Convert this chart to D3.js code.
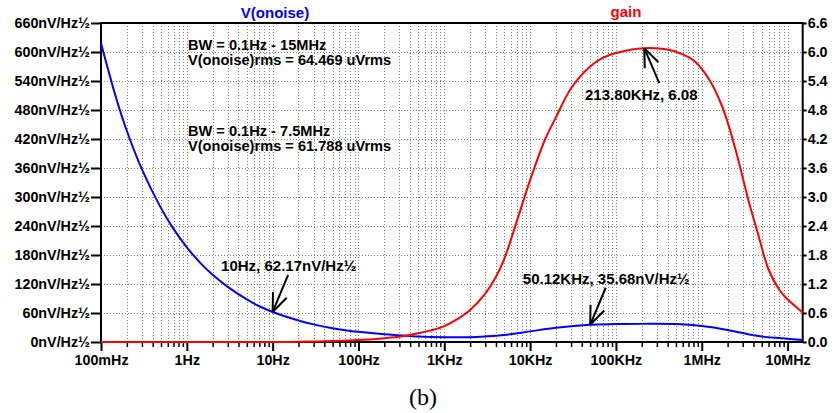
<!DOCTYPE html>
<html>
<head>
<meta charset="utf-8">
<script src="https://cdn.jsdelivr.net/npm/d3@7/dist/d3.min.js"></script>
<style>
  html, body { margin: 0; padding: 0; background: #fff; }
  svg { display: block; }
  text { font-family: "Liberation Sans", Arial, sans-serif; font-weight: bold; }
  text.caption { font-family: "Liberation Serif", "DejaVu Serif", serif; font-weight: normal; }
</style>
</head>
<body>
<div id="vis"></div>
<script>
// noise spectral density (nV/Hz^1/2) vs frequency (Hz)
const noiseFreq = [0.1, 0.15, 0.2, 0.3, 0.5, 0.7, 1, 1.5, 2, 3, 5, 7, 10, 20, 30, 50, 70, 100, 200, 300, 500,
  1e3, 2e3, 3e3, 5e3, 1e4, 2e4, 5.012e4, 1e5, 2e5, 5e5, 1e6, 2e6, 3e6, 5e6, 1e7, 1.5e7];
const noiseValues = [618, 505, 437, 357, 277, 234, 196, 160, 139, 114, 88, 74, 62.17, 44.5, 36.5, 28.6, 24.5, 21, 16, 14, 11.5,
  10, 10, 11.5, 14.5, 22, 29.5, 35.68, 37, 37.5, 37, 33, 25, 18.5, 11.5, 6.5, 4];

// gain vs frequency (Hz)
const gainFreq = [0.1, 10, 20, 50, 100, 200, 300, 500, 700, 1e3, 1.5e3, 2e3, 3e3, 4e3, 5e3, 7e3, 1e4, 1.5e4, 2e4, 3e4, 5e4,
  7e4, 1e5, 2.138e5, 4e5, 6e5, 8e5, 1e6, 1.3e6, 1.66e6, 2e6, 2.5e6, 3e6, 3.6e6, 4.5e6, 6e6, 8e6, 9.5e6, 1.5e7];
const gainValues = [0, 0, 0.005, 0.02, 0.04, 0.08, 0.11, 0.18, 0.24, 0.33, 0.5, 0.66, 1.0, 1.35, 1.72, 2.5, 3.35, 4.2, 4.65, 5.25, 5.7,
  5.88, 5.98, 6.08, 6.05, 5.95, 5.83, 5.65, 5.35, 4.95, 4.55, 3.95, 3.4, 2.85, 2.25, 1.5, 1.08, 0.92, 0.61];

const decadeTicks = [0.1, 1, 10, 100, 1e3, 1e4, 1e5, 1e6, 1e7];
const decadeLabels = ["100mHz", "1Hz", "10Hz", "100Hz", "1KHz", "10KHz", "100KHz", "1MHz", "10MHz"];
const noiseTicks = d3.range(0, 661, 60);
const gainTicks = d3.range(0, 12).map(i => i * 0.6);

const markers = [
  { series: "noise", f: 10, v: 62.17, label: "10Hz, 62.17nV/Hz½" },
  { series: "noise", f: 5.012e4, v: 35.68, label: "50.12KHz, 35.68nV/Hz½" },
  { series: "gain", f: 2.138e5, v: 6.08, label: "213.80KHz, 6.08" }
];

const width = 837, height = 413;
const margin = { top: 23, right: 34.3, bottom: 71, left: 101 };

const svg = d3.select("#vis").append("svg")
  .attr("width", width).attr("height", height);

const x = d3.scaleLog().domain([0.1, 1.5e7]).range([margin.left, width - margin.right]);
const yN = d3.scaleLinear().domain([0, 660]).range([height - margin.bottom, margin.top]);
const yG = d3.scaleLinear().domain([0, 6.6]).range([height - margin.bottom, margin.top]);

// minor ticks 2..9 per decade
const minorTicks = [];
decadeTicks.forEach(d => {
  for (let k = 2; k <= 9; k++) if (k * d <= 1.5e7) minorTicks.push(k * d);
});

const x0 = margin.left, x1 = width - margin.right;
const y0 = height - margin.bottom, y1 = margin.top;

// grid
const grid = svg.append("g").attr("stroke", "#808080").attr("stroke-width", 1).attr("stroke-dasharray", "1,2");
grid.selectAll(".vg").data(decadeTicks.concat(minorTicks).filter(f => f > 0.1))
  .enter().append("line")
  .attr("x1", d => Math.round(x(d)) + 0.5).attr("x2", d => Math.round(x(d)) + 0.5)
  .attr("y1", y1).attr("y2", y0);
grid.selectAll(".hg").data(noiseTicks.filter(v => v > 0 && v < 660))
  .enter().append("line")
  .attr("x1", x0).attr("x2", x1)
  .attr("y1", d => Math.round(yN(d)) + 0.5).attr("y2", d => Math.round(yN(d)) + 0.5);

// axes
const axisFont = g => g.selectAll("text").attr("font-size", 14.3).attr("fill", "#000");

svg.append("g").attr("transform", `translate(${x0},0)`)
  .call(d3.axisLeft(yN).tickValues(noiseTicks).tickSize(10).tickPadding(1).tickSizeOuter(0)
    .tickFormat(d => d + "nV/Hz½"))
  .call(g => g.select(".domain").remove())
  .call(g => g.selectAll("line").attr("stroke-width", 2))
  .call(axisFont);

svg.append("g").attr("transform", `translate(${x1},0)`)
  .call(d3.axisRight(yG).tickValues(gainTicks).tickSize(4).tickPadding(1).tickSizeOuter(0)
    .tickFormat(d3.format(".1f")))
  .call(g => g.select(".domain").remove())
  .call(g => g.selectAll("line").attr("stroke-width", 2))
  .call(axisFont);

svg.append("g").attr("transform", `translate(0,${y0})`)
  .call(d3.axisBottom(x).tickValues(minorTicks).tickSize(5).tickFormat(""))
  .call(g => g.select(".domain").remove())
  .call(g => g.selectAll("line").attr("stroke-width", 1.5));

svg.append("g").attr("transform", `translate(0,${y0})`)
  .call(d3.axisBottom(x).tickValues(decadeTicks).tickSize(9).tickPadding(4)
    .tickFormat((d, i) => decadeLabels[i]))
  .call(g => g.select(".domain").remove())
  .call(g => g.selectAll("line").attr("stroke-width", 2))
  .call(axisFont);

// frame
svg.append("rect")
  .attr("x", x0).attr("y", y1).attr("width", x1 - x0).attr("height", y0 - y1)
  .attr("fill", "none").attr("stroke", "#000").attr("stroke-width", 2);

// curves
const noiseLine = d3.line().x((d, i) => x(noiseFreq[i])).y(d => yN(d)).curve(d3.curveCatmullRom.alpha(0.5));
const gainLine = d3.line().x((d, i) => x(gainFreq[i])).y(d => yG(d)).curve(d3.curveCatmullRom.alpha(0.5));

svg.append("path").datum(noiseValues).attr("d", noiseLine)
  .attr("fill", "none").attr("stroke", "#0000ff").attr("stroke-width", 2);
svg.append("path").datum(gainValues).attr("d", gainLine)
  .attr("fill", "none").attr("stroke", "#ff0000").attr("stroke-width", 2);

// titles
svg.append("text").attr("x", 275).attr("y", 18).attr("text-anchor", "middle")
  .attr("font-size", 15).attr("fill", "#0000ff").text("V(onoise)");
svg.append("text").attr("x", 626).attr("y", 17).attr("text-anchor", "middle")
  .attr("font-size", 15).attr("fill", "#ff0000").text("gain");

// bandwidth notes
const notes = [
  { y: 50, lines: ["BW = 0.1Hz - 15MHz", "V(onoise)rms = 64.469 uVrms"] },
  { y: 136, lines: ["BW = 0.1Hz - 7.5MHz", "V(onoise)rms = 61.788 uVrms"] }
];
notes.forEach(n => {
  n.lines.forEach((l, i) => svg.append("text").attr("x", 188).attr("y", n.y + i * 15)
    .attr("font-size", 14.6).attr("fill", "#000").text(l));
});

// markers with arrows
function arrow(tx, ty, dx, dy) {
  const g = svg.append("g").attr("stroke", "#000").attr("stroke-width", 2).attr("fill", "none");
  g.append("line").attr("x1", tx).attr("y1", ty).attr("x2", tx + dx).attr("y2", ty + dy);
  const a = Math.atan2(dy, dx), len = 20, spread = 0.38;
  [-spread, spread].forEach(s => {
    g.append("line").attr("x1", tx).attr("y1", ty)
      .attr("x2", tx + len * Math.cos(a + s)).attr("y2", ty + len * Math.sin(a + s));
  });
}

markers.forEach(m => {
  const px = x(m.f);
  const py = m.series === "noise" ? yN(m.v) : yG(m.v);
  if (m.series === "noise") {
    arrow(px, py, 15.5, -37);
    svg.append("text").attr("x", px + 16).attr("y", py - 41).attr("text-anchor", "middle")
      .attr("font-size", 15).attr("fill", "#000").text(m.label);
  } else {
    arrow(px, py, 15, 35);
    svg.append("text").attr("x", px - 3).attr("y", py + 52).attr("text-anchor", "middle")
      .attr("font-size", 15).attr("fill", "#000").text(m.label);
  }
});

// caption
svg.append("text").attr("class", "caption").attr("x", 423).attr("y", 405).attr("text-anchor", "middle")
  .attr("font-size", 24).attr("fill", "#000").text("(b)");
</script>
</body>
</html>
